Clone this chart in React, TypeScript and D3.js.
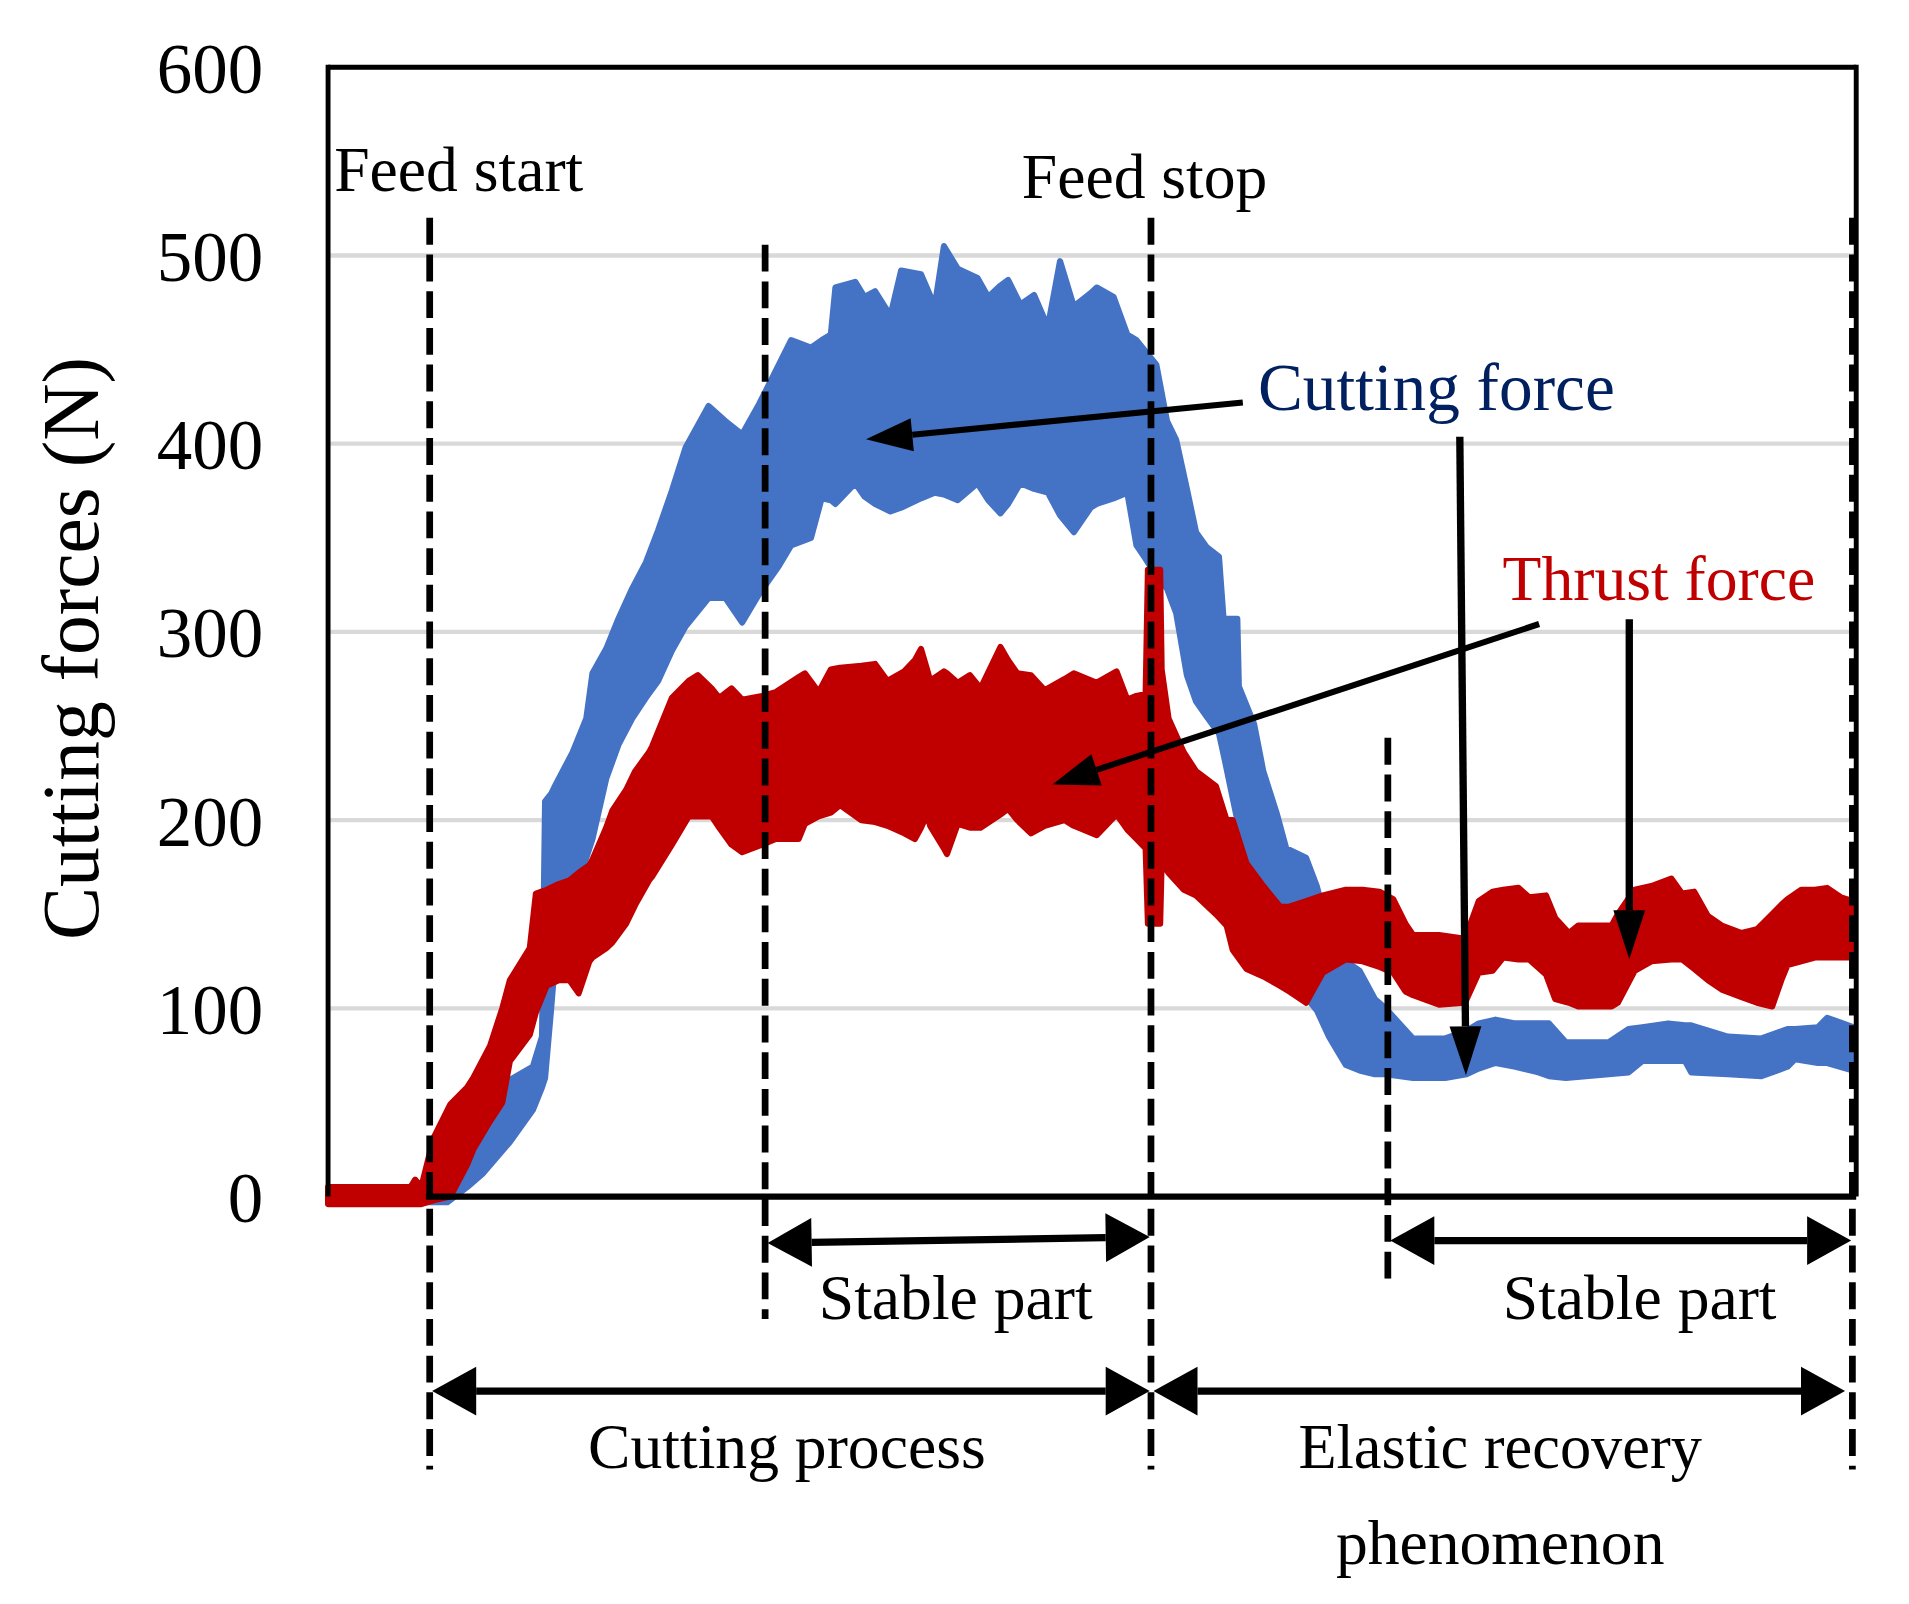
import React from 'react';
import * as d3 from 'd3';

// cutting force (blue) band: time, upper and lower edge (N)
const blueT = [0, 6.5, 7.8, 9.1, 10.1, 11.9, 13.4, 14.0, 14.2, 14.6, 14.9, 16.0, 16.9, 17.3, 18.2, 19.0, 19.9, 20.8, 21.6, 22.5, 23.4, 24.9, 26.0, 27.1, 28.2, 29.5, 30.3, 31.6, 32.3, 32.9, 33.2, 34.5, 35.1, 35.8, 36.8, 37.5, 38.8, 39.7, 40.3, 41.2, 42.5, 43.2, 44.0, 44.5, 45.3, 46.2, 47.1, 47.9, 48.8, 49.9, 50.3, 51.4, 52.3, 52.9, 53.4, 54.2, 54.9, 55.5, 56.2, 56.8, 57.5, 58.3, 58.6, 59.5, 59.6, 60.6, 61.2, 62.1, 62.7, 64.0, 64.7, 65.5, 66.6, 67.5, 68.5, 69.2, 71.0, 73.1, 74.5, 75.3, 76.4, 77.7, 79.2, 79.9, 81.0, 83.8, 85.1, 86.0, 87.7, 88.8, 89.2, 91.6, 93.8, 95.5, 96.0, 97.5, 98.1, 99.8];
const blueHi = [3, 3, 5, 17, 34, 62, 69, 85, 210, 214, 219, 236, 254, 278, 291, 307, 323, 337, 354, 375, 398, 420, 412, 405, 421, 442, 455, 451, 455, 458, 483, 486, 478, 481, 468, 492, 490, 473, 505, 493, 488, 478, 484, 487, 474, 479, 462, 497, 473, 480, 483, 478, 458, 455, 450, 442, 412, 402, 376, 353, 345, 340, 307, 307, 271, 251, 226, 203, 185, 180, 165, 140, 125, 120, 105, 100, 84, 84, 88, 92, 94, 92, 92, 92, 82, 82, 89, 90, 92, 91, 91, 85, 84, 89, 89, 90, 95, 90];
const blueLo = [-3, -3, -3, 5, 12, 29, 46, 58, 63, 100, 130, 160, 180, 190, 222, 240, 254, 265, 274, 290, 303, 318, 318, 305, 320, 335, 346, 350, 371, 370, 368, 379, 372, 368, 364, 366, 371, 374, 373, 370, 379, 370, 363, 368, 379, 376, 374, 362, 353, 366, 368, 371, 374, 346, 340, 330, 323, 310, 277, 263, 255, 246, 235, 200, 195, 175, 160, 140, 125, 106, 99, 85, 70, 67, 65, 65, 63, 63, 65, 68, 71, 69, 66, 64, 63, 65, 66, 72, 72, 72, 66, 65, 64, 69, 73, 71, 71, 67];

// thrust force (red) band
const redT = [0, 5.4, 5.7, 6.1, 6.9, 8.0, 9.1, 9.5, 10.6, 11.4, 11.9, 13.2, 13.6, 14.3, 15.1, 15.8, 16.4, 17.1, 17.3, 18.2, 18.6, 19.5, 20.1, 21.0, 21.2, 22.5, 23.6, 24.2, 25.1, 25.6, 26.4, 27.1, 28.4, 29.3, 30.8, 31.2, 32.1, 32.9, 33.5, 34.9, 35.8, 36.6, 37.7, 38.4, 38.8, 39.2, 39.4, 40.3, 40.5, 41.2, 42.0, 42.7, 44.0, 44.5, 45.1, 46.0, 46.9, 48.2, 48.8, 50.3, 51.6, 52.3, 52.9, 53.5, 53.65, 54.45, 54.55, 55.0, 56.0, 56.8, 58.1, 58.8, 59.2, 60.1, 61.2, 62.3, 62.9, 64.0, 65.1, 66.6, 67.7, 68.8, 69.7, 70.5, 71.0, 72.7, 74.4, 75.3, 76.2, 76.9, 77.9, 78.6, 79.7, 80.3, 81.2, 81.8, 84.0, 84.4, 85.5, 86.6, 87.9, 88.6, 89.4, 90.3, 91.2, 92.5, 93.5, 94.5, 95.1, 95.5, 96.4, 97.3, 98.1, 99.0, 99.8];
const redHi = [5, 5, 9, 5, 31, 49, 58, 63, 80, 100, 115, 132, 161, 163, 166, 168, 172, 176, 179, 196, 205, 216, 226, 236, 239, 265, 274, 277, 270, 265, 270, 264, 266, 268, 276, 278, 268, 280, 281, 282, 283, 274, 279, 285, 291, 280, 274, 279, 278, 273, 277, 270, 292, 285, 278, 277, 269, 275, 278, 273, 279, 264, 266, 267, 333, 333, 280, 254, 236, 226, 218, 200, 200, 177, 165, 154, 154, 157, 160, 163, 163, 162, 158, 145, 139, 139, 137, 157, 162, 163, 164, 159, 160, 148, 140, 144, 144, 150, 163, 165, 169, 161, 162, 149, 144, 140, 142, 150, 155, 158, 163, 163, 164, 159, 157];
const redLo = [-4, -4, -4, -4, -2, 0, 17, 25, 40, 50, 72, 86, 98, 112, 115, 115, 108, 125, 127, 132, 135, 145, 155, 168, 170, 187, 202, 202, 202, 196, 187, 183, 187, 190, 190, 198, 202, 204, 208, 200, 199, 197, 193, 190, 196, 203, 197, 185, 182, 198, 196, 196, 203, 206, 200, 193, 197, 200, 197, 192, 203, 195, 190, 185, 145, 145, 178, 172, 163, 160, 150, 144, 131, 121, 117, 112, 109, 103, 119, 126, 125, 122, 119, 109, 107, 102, 103, 119, 120, 127, 126, 126, 118, 105, 103, 101, 101, 103, 120, 125, 126, 126, 121, 115, 110, 106, 103, 101, 115, 123, 125, 127, 127, 127, 127];

const yTicks = [0, 100, 200, 300, 400, 500, 600];

// event times on the time axis
const feedStart = 6.65;
const stableStart = 28.6;
const feedStop = 53.85;
const stable2Start = 69.35;
const endT = 99.75;

const W = 1560;
const H = 1311;
const FONT = '"Liberation Serif", "Times New Roman", serif';
const BLUE = '#4472C4';
const RED = '#C00000';

type Pt = [number, number];

function head(tip: Pt, from: Pt, len: number, wid: number) {
  const dx = tip[0] - from[0];
  const dy = tip[1] - from[1];
  const d = Math.hypot(dx, dy);
  const ux = dx / d, uy = dy / d;
  const bx = tip[0] - ux * len, by = tip[1] - uy * len;
  const px = -uy * wid / 2, py = ux * wid / 2;
  return {
    base: [bx, by] as Pt,
    pts: `${tip[0]},${tip[1]} ${bx + px},${by + py} ${bx - px},${by - py}`,
  };
}

const Arrow = ({ from, to, len = 38, wid = 27, sw = 5, double = false }:
  { from: Pt; to: Pt; len?: number; wid?: number; sw?: number; double?: boolean }) => {
  const h2 = head(to, from, len, wid);
  const h1 = double ? head(from, to, len, wid) : null;
  const start = h1 ? h1.base : from;
  return (
    <g>
      <line x1={start[0]} y1={start[1]} x2={h2.base[0]} y2={h2.base[1]} stroke="#000" strokeWidth={sw} />
      <polygon points={h2.pts} fill="#000" />
      {h1 && <polygon points={h1.pts} fill="#000" />}
    </g>
  );
};

export default function App() {
  const x = d3.scaleLinear().domain([0, 100]).range([268, 1517]);
  const y = d3.scaleLinear().domain([0, 600]).range([978, 55]);

  const band = (ts: number[], hi: number[], lo: number[]) =>
    d3.area<number>()
      .x((i) => x(ts[i]))
      .y0((i) => y(lo[i]))
      .y1((i) => y(hi[i]))
      .curve(d3.curveLinear)(d3.range(ts.length)) || '';

  const dashed = [
    { t: feedStart, y1: 178, y2: 1201 },
    { t: stableStart, y1: 200, y2: 1078 },
    { t: feedStop, y1: 178, y2: 1201 },
    { t: stable2Start, y1: 603, y2: 1050 },
    { t: endT, y1: 178, y2: 1201 },
  ];

  const txt = { fontFamily: FONT, fill: '#000' } as const;

  return (
    <svg
      width={1909}
      height={1604}
      viewBox={`0 0 ${W} ${H}`}
      style={{ position: 'absolute', left: 0, top: 0, background: '#fff' }}
    >
      <rect x={0} y={0} width={W} height={H} fill="#fff" />

      {/* gridlines */}
      {yTicks.filter((v) => v > 0).map((v) => (
        <line key={v} x1={x(0)} x2={x(100)} y1={y(v)} y2={y(v)} stroke="#d9d9d9" strokeWidth={3.5} />
      ))}

      {/* data bands */}
      <path d={band(blueT, blueHi, blueLo)} fill={BLUE} stroke={BLUE} strokeWidth={5} strokeLinejoin="round" />
      <path d={band(redT, redHi, redLo)} fill={RED} stroke={RED} strokeWidth={5} strokeLinejoin="round" />

      {/* frame */}
      <line x1={x(0)} x2={x(100)} y1={y(600)} y2={y(600)} stroke="#000" strokeWidth={4} />
      <line x1={x(0)} x2={x(0)} y1={y(600) - 2} y2={y(0)} stroke="#000" strokeWidth={4} />
      <line x1={x(100)} x2={x(100)} y1={y(600) - 2} y2={y(0)} stroke="#000" strokeWidth={4} />
      <line x1={x(0) + 80} x2={x(100)} y1={y(0)} y2={y(0)} stroke="#000" strokeWidth={5} />

      {/* tick labels */}
      {yTicks.map((v) => (
        <text key={v} x={215} y={y(v)} dy="0.36em" textAnchor="end" fontSize={58} {...txt}>{v}</text>
      ))}
      <text
        transform={`translate(${80},${530}) rotate(-90)`}
        textAnchor="middle"
        fontSize={65}
        {...txt}
      >
        Cutting forces (N)
      </text>

      {/* event lines */}
      {dashed.map((d, i) => (
        <line key={i} x1={x(d.t)} x2={x(d.t)} y1={d.y1} y2={d.y2} stroke="#000" strokeWidth={5.5} strokeDasharray="22 8" />
      ))}

      <text x={273} y={156} fontSize={52} {...txt}>Feed start</text>
      <text x={835} y={162} fontSize={52} {...txt}>Feed stop</text>

      {/* series annotations */}
      <text x={1028} y={335} fontSize={55} fontFamily={FONT} fill="#002060">Cutting force</text>
      <text x={1228} y={490} fontSize={52} fontFamily={FONT} fill={RED}>Thrust force</text>
      <Arrow from={[x(59.86), y(421.9)]} to={[x(35.2), y(402.4)]} sw={5} />
      <Arrow from={[x(74.06), y(403.7)]} to={[x(74.46), y(64.4)]} sw={6} len={40} wid={26} />
      <Arrow from={[x(79.25), y(304.2)]} to={[x(47.4), y(219)]} sw={5} />
      <Arrow from={[x(85.15), y(306.8)]} to={[x(85.15), y(126.1)]} sw={6} len={40} wid={26} />

      {/* range brackets */}
      <Arrow from={[x(stableStart) + 2, 1016]} to={[x(feedStop) - 1, 1011]} double sw={6} len={36} wid={40} />
      <Arrow from={[x(stable2Start) + 2, 1014]} to={[x(endT) - 1, 1014]} double sw={6} len={36} wid={40} />
      <Arrow from={[x(feedStart) + 2, 1137]} to={[x(feedStop) - 1, 1137]} double sw={6} len={36} wid={40} />
      <Arrow from={[x(feedStop) + 2, 1137]} to={[x(endT) - 6, 1137]} double sw={6} len={36} wid={40} />

      <text x={781} y={1078} textAnchor="middle" fontSize={52} {...txt}>Stable part</text>
      <text x={1340} y={1078} textAnchor="middle" fontSize={52} {...txt}>Stable part</text>
      <text x={643} y={1200} textAnchor="middle" fontSize={52} {...txt}>Cutting process</text>
      <text x={1226} y={1200} textAnchor="middle" fontSize={51} {...txt}>Elastic recovery</text>
      <text x={1226} y={1278} textAnchor="middle" fontSize={52} {...txt}>phenomenon</text>
    </svg>
  );
}
